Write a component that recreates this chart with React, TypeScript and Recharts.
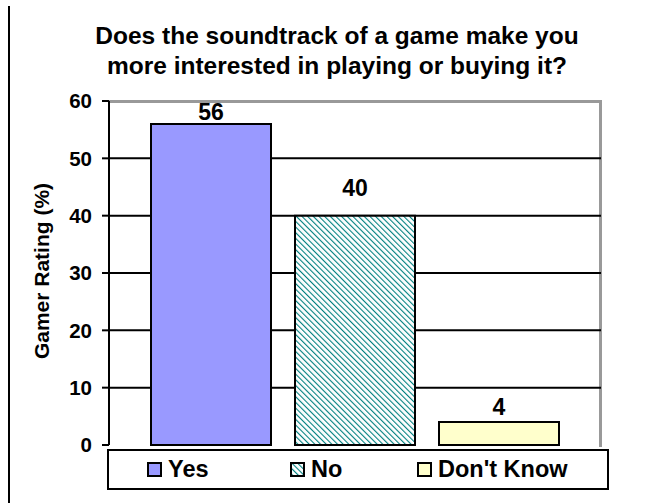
import { BarChart, Bar, XAxis, YAxis, CartesianGrid, Cell, LabelList } from 'recharts'

const categories = ['Yes', 'No', "Don't Know"]
const ratings = [56, 40, 4]
const yTicks = [0, 10, 20, 30, 40, 50, 60]
const gridValues = [10, 20, 30, 40, 50]

const FONT = '"Liberation Sans", Arial, sans-serif'
const fills = ['#9999FF', 'url(#hatchTeal)', '#FFFFCC']
// label lift above each bar, as in the original (the "40" sits higher)
const labelLift = [4, 20, 7]

const data = categories.map((name, i) => ({ name, value: ratings[i] }))

const BarLabel = (props: any) => {
  const { x, y, width, value, index } = props
  return (
    <text
      x={x + width / 2}
      y={y - labelLift[index]}
      textAnchor="middle"
      fontFamily={FONT}
      fontWeight="bold"
      fontSize={23}
      fill="#000"
    >
      {value}
    </text>
  )
}

const Swatch = ({ fill }: { fill: string }) => (
  <svg width={15} height={15} style={{ display: 'block' }}>
    <defs>
      <pattern id="hatchLegend" patternUnits="userSpaceOnUse" width={4} height={4} patternTransform="rotate(-45)">
        <rect width={4} height={4} fill="#fff" />
        <line x1={0} y1={0} x2={0} y2={4} stroke="#008080" strokeWidth={2.2} />
      </pattern>
    </defs>
    <rect x={1} y={1} width={13} height={13} fill={fill === 'url(#hatchTeal)' ? 'url(#hatchLegend)' : fill} stroke="#000" strokeWidth={2} />
  </svg>
)

const legendX = [147, 290, 417]

export default function App() {
  return (
    <div style={{ position: 'absolute', left: 0, top: 0, width: 654, height: 503, background: '#fff', fontFamily: FONT }}>
      <div style={{ position: 'absolute', left: 8, top: 6, width: 2, height: 497, background: '#000' }} />
      <div
        style={{
          position: 'absolute',
          left: 0,
          top: 21,
          width: 674,
          textAlign: 'center',
          fontWeight: 'bold',
          fontSize: 24.5,
          lineHeight: '30px',
          color: '#000',
        }}
      >
        Does the soundtrack of a game make you
        <br />
        more interested in playing or buying it?
      </div>
      <div
        style={{
          position: 'absolute',
          left: 42,
          top: 271,
          transform: 'translate(-50%, -50%) rotate(-90deg)',
          whiteSpace: 'nowrap',
          fontWeight: 'bold',
          fontSize: 21,
          color: '#000',
        }}
      >
        Gamer Rating (%)
      </div>
      {/* grey plot-area frame, top and right */}
      <div
        style={{
          position: 'absolute',
          left: 109,
          top: 99.5,
          width: 490,
          height: 344,
          borderTop: '3px solid #999',
          borderRight: '3px solid #999',
        }}
      />
      <div style={{ position: 'absolute', left: 0, top: 0 }}>
        <BarChart width={654} height={503} data={data} margin={{ top: 101, right: 53, bottom: 58, left: 0 }} barSize={120}>
          <defs>
            <pattern id="hatchTeal" patternUnits="userSpaceOnUse" width={4} height={4} patternTransform="rotate(-45)">
              <rect width={4} height={4} fill="#fff" />
              <line x1={0} y1={0} x2={0} y2={4} stroke="#008080" strokeWidth={2.2} />
            </pattern>
          </defs>
          <CartesianGrid vertical={false} horizontalValues={gridValues} stroke="#000" strokeWidth={2} />
          <XAxis dataKey="name" tick={false} tickLine={false} height={0} padding={{ left: 30, right: 30 }} axisLine={{ stroke: '#000', strokeWidth: 3 }} />
          <YAxis
            domain={[0, 60]}
            ticks={yTicks}
            width={109}
            tickSize={7}
            tickMargin={10}
            interval={0}
            axisLine={{ stroke: '#000', strokeWidth: 2 }}
            tickLine={{ stroke: '#000', strokeWidth: 2 }}
            tick={{ fill: '#000', fontSize: 20.5, fontWeight: 'bold', fontFamily: FONT }}
          />
          <Bar dataKey="value" stroke="#000" strokeWidth={2} isAnimationActive={false}>
            {data.map((d, i) => (
              <Cell key={d.name} fill={fills[i]} />
            ))}
            <LabelList dataKey="value" content={BarLabel} />
          </Bar>
        </BarChart>
      </div>
      <div
        style={{
          position: 'absolute',
          left: 107,
          top: 449,
          width: 498,
          height: 37,
          border: '2px solid #000',
          background: '#fff',
        }}
      >
        {categories.map((c, i) => (
          <div
            key={c}
            style={{
              position: 'absolute',
              left: legendX[i] - 109,
              top: 0,
              height: 37,
              display: 'flex',
              alignItems: 'center',
              gap: 6,
              fontWeight: 'bold',
              fontSize: 23.5,
              color: '#000',
              whiteSpace: 'nowrap',
            }}
          >
            <Swatch fill={fills[i]} />
            <span>{c}</span>
          </div>
        ))}
      </div>
    </div>
  )
}
